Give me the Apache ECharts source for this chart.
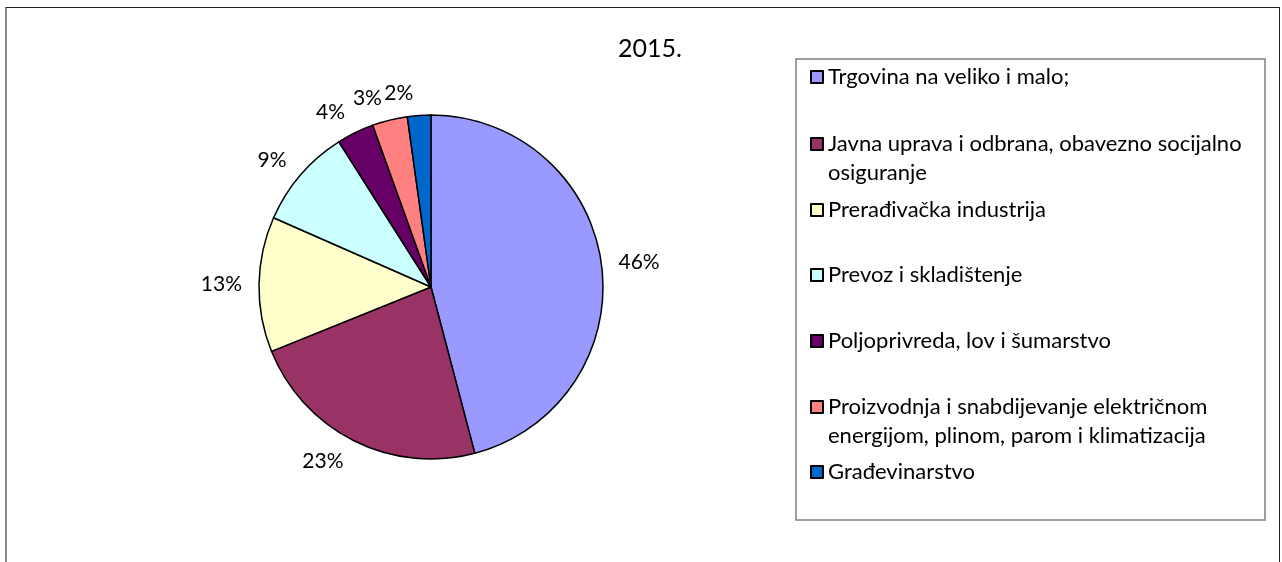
<!DOCTYPE html>
<html>
<head>
<meta charset="utf-8">
<script src="https://cdn.jsdelivr.net/npm/echarts@6/dist/echarts.min.js"></script>
<style>
html, body { margin: 0; padding: 0; background: #fff; }
#chart { width: 1282px; height: 562px; }
#frame {
    position: absolute; left: 5px; top: 7px; width: 1272px; height: 600px;
    border-top: 1px solid #222; border-right: 1px solid #222; border-left: 2px solid #888;
    pointer-events: none;
}
</style>
</head>
<body>
<div id="chart"></div>
<div id="frame"></div>
<script>
var chartTitle = '2015.';

var categories = [
    'Trgovina na veliko i malo;',
    'Javna uprava i odbrana, obavezno socijalno osiguranje',
    'Prerađivačka industrija',
    'Prevoz i skladištenje',
    'Poljoprivreda, lov i šumarstvo',
    'Proizvodnja i snabdijevanje električnom energijom, plinom, parom i klimatizacija',
    'Građevinarstvo'
];

// legend wording, wrapped as in the original
var legendText = [
    'Trgovina na veliko i malo;',
    'Javna uprava i odbrana, obavezno socijalno\nosiguranje',
    'Prerađivačka industrija',
    'Prevoz i skladištenje',
    'Poljoprivreda, lov i šumarstvo',
    'Proizvodnja i snabdijevanje električnom\nenergijom, plinom, parom i klimatizacija',
    'Građevinarstvo'
];

// shares in percent
var shares = [45.9, 23.0, 12.7, 9.4, 3.5, 3.3, 2.2];

var colors = ['#9999FF', '#993366', '#FFFFCC', '#CCFFFF', '#660066', '#FF8080', '#0066CC'];

var FONT = 'Lato, "Open Sans", sans-serif';
var LINE_H = 29;
// vertical centre of the first text line of each legend entry
var legendRowY = [77, 144, 210, 275, 341, 407, 472];

var myChart = echarts.init(document.getElementById('chart'), null, { renderer: 'canvas' });

var pieData = categories.map(function (name, i) {
    return { name: name, value: shares[i], itemStyle: { color: colors[i] } };
});

var total = shares.reduce(function (a, b) { return a + b; }, 0);

// mid angle of a slice, clockwise from 12 o'clock
function midAngle(idx) {
    var before = 0;
    for (var k = 0; k < idx; k++) before += shares[k];
    return (before + shares[idx] / 2) / total * Math.PI * 2;
}

// one legend per entry so the rows keep Excel's even spacing
var legends = categories.map(function (name, i) {
    var twoLines = legendText[i].indexOf('\n') >= 0;
    return {
        data: [name],
        orient: 'vertical',
        left: 810,
        top: twoLines ? legendRowY[i] - LINE_H * 1.5 : legendRowY[i] - LINE_H / 2,
        padding: 0,
        icon: 'rect',
        itemWidth: 12,
        itemHeight: 12,
        selectedMode: false,
        itemStyle: { borderColor: '#000', borderWidth: 2 },
        // empty first line keeps the marker level with the first row of text
        formatter: function () { return twoLines ? '\n' + legendText[i] : legendText[i]; },
        textStyle: {
            fontFamily: FONT,
            fontSize: 22,
            color: '#000',
            lineHeight: LINE_H
        }
    };
});

var options = {
    backgroundColor: '#fff',
    animation: false,
    title: {
        text: chartTitle,
        left: 650,
        top: 49,
        textAlign: 'center',
        textVerticalAlign: 'middle',
        padding: 0,
        textStyle: { fontFamily: FONT, fontSize: 25, fontWeight: 'normal', color: '#000' }
    },
    legend: legends,
    graphic: [{
        type: 'rect',
        shape: { x: 796, y: 59, width: 469, height: 461 },
        style: { fill: 'none', stroke: '#808080', lineWidth: 1.5 },
        z: -1
    }],
    series: [{
        type: 'pie',
        center: [431, 287],
        radius: 172,
        startAngle: 90,
        clockwise: true,
        avoidLabelOverlap: false,
        data: pieData,
        itemStyle: { borderColor: '#000', borderWidth: 1.5 },
        label: {
            position: 'outside',
            formatter: function (p) { return Math.round(p.percent) + '%'; },
            fontFamily: FONT,
            fontSize: 21,
            color: '#000',
            distanceToLabelLine: 5
        },
        labelLine: { show: false, length: 12, length2: 0 },
        // push the label box outward vertically, like Excel does
        labelLayout: function (params) {
            var uy = -Math.cos(midAngle(params.dataIndex));
            return { dy: params.labelRect.height / 2 * uy };
        },
        emphasis: { disabled: true }
    }]
};

myChart.setOption(options);
</script>
</body>
</html>
